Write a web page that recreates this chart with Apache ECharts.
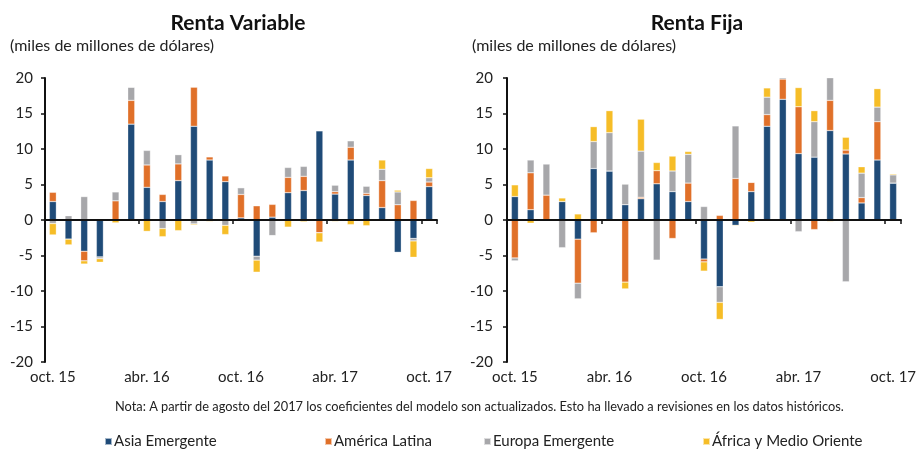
<!DOCTYPE html>
<html>
<head>
<meta charset="utf-8">
<script src="https://cdn.jsdelivr.net/npm/echarts@6/dist/echarts.min.js"></script>
<style>
html, body { margin: 0; padding: 0; background: #fff; }
#main { width: 919px; height: 449px; }
</style>
</head>
<body>
<div id="main"></div>
<script>
var months = ['oct. 15','nov. 15','dic. 15','ene. 16','feb. 16','mar. 16','abr. 16','may. 16','jun. 16','jul. 16','ago. 16','sep. 16',
	'oct. 16','nov. 16','dic. 16','ene. 17','feb. 17','mar. 17','abr. 17','may. 17','jun. 17','jul. 17','ago. 17','sep. 17','oct. 17'];

// Renta Variable
var rvAsia   = [2.6, -2.7, -4.4, -5.2, 0, 13.5, 4.6, 2.6, 5.55, 13.2, 8.45, 5.4, 0.3, -5.1, 0.4, 3.85, 4.15, 12.55, 3.65, 8.45, 3.45, 1.75, -4.55, -2.6, 4.7];
var rvLatam  = [1.3, 0, -1.35, 0.1, 2.7, 3.35, 3.15, 1.0, 2.35, 5.5, 0.45, 0.8, 3.3, 2.0, 1.8, 2.15, 2.0, -1.8, 0.35, 1.8, 0.3, 3.8, 2.15, 2.75, 0.65];
var rvEuropa = [-0.5, 0.6, 3.3, -0.25, 1.25, 1.85, 2.05, -1.2, 1.3, -0.55, 0, -0.75, 0.95, -0.55, -2.2, 1.4, 1.4, 0, 0.9, 0.9, 1.0, 1.6, 1.8, -0.35, 0.6];
var rvAfrica = [-1.6, -0.8, -0.45, -0.5, -0.4, 0, -1.6, -1.15, -1.5, -0.15, -0.2, -1.3, 0, -1.7, 0, -1.0, -0.25, -1.3, -0.2, -0.65, -0.8, 1.3, 0.25, -2.3, 1.3];

// Renta Fija
var rfAsia   = [3.3, 1.45, 0, 2.6, -2.7, 7.25, 6.9, 2.15, 3.0, 5.1, 4.0, 2.6, -5.5, -9.4, -0.75, 4.0, 13.2, 17.0, 9.35, 8.85, 12.6, 9.3, 2.4, 8.45, 5.2];
var rfLatam  = [-5.35, 5.2, 3.5, 0, -6.2, -1.8, 0, -8.75, 0.2, 1.85, -2.6, 2.6, -0.4, 0.65, 5.85, 1.3, 1.65, 2.85, 6.6, -1.35, 4.25, 0.55, 0.75, 5.4, 0];
var rfEuropa = [-0.4, 1.8, 4.4, -3.9, -2.2, 3.8, 5.4, 2.9, 6.5, -5.65, 2.9, 4.05, 1.9, -2.2, 7.4, 0, 2.45, 0.3, -1.65, 5.0, 3.4, -8.7, 3.45, 2.05, 1.15];
var rfAfrica = [1.65, -0.45, 0, 0.5, 0.85, 2.1, 3.1, -0.95, 4.5, 1.15, 2.1, 0.4, -1.3, -2.4, -0.1, -0.3, 1.3, 0, 2.7, 1.55, -0.2, 1.8, 0.9, 2.6, 0.15];

var names = ['Asia Emergente', 'América Latina', 'Europa Emergente', 'África y Medio Oriente'];
var colors = ['#1f4b78', '#e07029', '#a7a7aa', '#f6bd27'];

var font = 'Lato, "Open Sans", sans-serif';
var myChart = echarts.init(document.getElementById('main'));

function barSeries(name, color, data, gridIdx) {
	return {
		name: name,
		type: 'bar',
		stack: gridIdx === 0 ? 'rv' : 'rf',
		xAxisIndex: gridIdx * 2,
		yAxisIndex: gridIdx,
		barWidth: 7,
		itemStyle: {
			color: color,
			borderColor: 'rgba(255,255,255,0.6)',
			borderWidth: 0.5
		},
		data: data
	};
}

function labelAxis(gridIdx) {
	return {
		type: 'category',
		gridIndex: gridIdx,
		position: 'bottom',
		data: months,
		axisLine: { show: false, onZero: false },
		axisTick: { show: false },
		axisLabel: { interval: 5, margin: 8, fontSize: 15, color: '#222', fontFamily: font }
	};
}

function zeroAxis(gridIdx) {
	return {
		type: 'category',
		gridIndex: gridIdx,
		position: 'bottom',
		data: months,
		z: 5,
		axisLine: { onZero: true, lineStyle: { color: '#111', width: 2 } },
		axisTick: { show: true, interval: 5, length: 4, lineStyle: { color: '#111', width: 1.5 } },
		axisLabel: { show: false }
	};
}

function valueAxis(gridIdx, margin) {
	return {
		type: 'value',
		gridIndex: gridIdx,
		min: -20,
		max: 20,
		interval: 5,
		splitLine: { show: false },
		axisLine: { show: true, lineStyle: { color: '#111', width: 2 } },
		axisTick: { show: true, length: 4, lineStyle: { color: '#111', width: 1.5 } },
		axisLabel: { margin: margin, fontSize: 15, color: '#222', fontFamily: font }
	};
}

function legendItem(name, left) {
	return {
		data: [name],
		left: left,
		top: 434,
		padding: 0,
		icon: 'rect',
		itemWidth: 7,
		itemHeight: 7,
		itemGap: 0,
		textStyle: { fontSize: 15, color: '#222', fontFamily: font, padding: [0, 0, 0, -3] }
	};
}

option = {
	backgroundColor: '#fff',
	animation: false,
	title: [
		{ text: 'Renta Variable', left: 233, top: 8, textAlign: 'center',
			textStyle: { fontSize: 21, fontWeight: 'bold', color: '#111', fontFamily: font } },
		{ text: '(miles de millones de dólares)', left: 5, top: 33,
			textStyle: { fontSize: 16, fontWeight: 'normal', color: '#222', fontFamily: font } },
		{ text: 'Renta Fija', left: 692, top: 8, textAlign: 'center',
			textStyle: { fontSize: 21, fontWeight: 'bold', color: '#111', fontFamily: font } },
		{ text: '(miles de millones de dólares)', left: 467, top: 33,
			textStyle: { fontSize: 16, fontWeight: 'normal', color: '#222', fontFamily: font } }
	],
	legend: [
		legendItem(names[0], 104),
		legendItem(names[1], 324),
		legendItem(names[2], 483),
		legendItem(names[3], 702)
	],
	grid: [
		{ left: 45, top: 78, width: 392, height: 284 },
		{ left: 507, top: 78, width: 396, height: 284 }
	],
	xAxis: [labelAxis(0), zeroAxis(0), labelAxis(1), zeroAxis(1)],
	yAxis: [valueAxis(0, 12), valueAxis(1, 14)],
	graphic: [
		{
			type: 'text',
			left: 115,
			top: 400,
			style: {
				text: 'Nota: A partir de agosto del 2017 los coeficientes del modelo son actualizados. Esto ha llevado a revisiones en los datos históricos.',
				fontSize: 12.8,
				fill: '#222',
				fontFamily: font
			}
		}
	],
	series: [
		barSeries(names[0], colors[0], rvAsia, 0),
		barSeries(names[1], colors[1], rvLatam, 0),
		barSeries(names[2], colors[2], rvEuropa, 0),
		barSeries(names[3], colors[3], rvAfrica, 0),
		barSeries(names[0], colors[0], rfAsia, 1),
		barSeries(names[1], colors[1], rfLatam, 1),
		barSeries(names[2], colors[2], rfEuropa, 1),
		barSeries(names[3], colors[3], rfAfrica, 1)
	]
};

myChart.setOption(option);
</script>
</body>
</html>
